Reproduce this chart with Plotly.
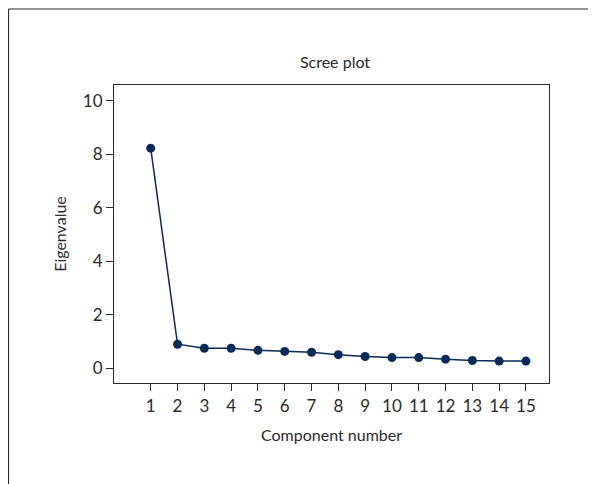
import plotly.graph_objects as go

components = list(range(1, 16))
eigenvalues = [8.23, 0.90, 0.75, 0.75, 0.67, 0.63, 0.60, 0.51, 0.44, 0.40, 0.40, 0.34, 0.29, 0.27, 0.27]
x_ticks = list(range(1, 16))
y_ticks = [0, 2, 4, 6, 8, 10]

FONT = "Lato, Roboto, sans-serif"
DARK = "#2a2a2a"
NAVY = "#0b2a57"

# page is offset by 8px (body margin), so figure is sized/positioned accordingly
W, H = 588, 476
L, T, R, B = 106, 77, 588 - 541, 476 - 375
PW, PH = W - L - R, H - T - B

fig = go.Figure(go.Scatter(
    x=components, y=eigenvalues, mode="lines+markers",
    line=dict(color=NAVY, width=1.5),
    marker=dict(color=NAVY, size=9),
))

axis_common = dict(showline=True, linecolor=DARK, linewidth=1.2, mirror=True,
                   ticks="outside", ticklen=7, tickcolor=DARK, tickwidth=1.2,
                   showgrid=False, zeroline=False,
                   tickfont=dict(family=FONT, size=17, color=DARK))

fig.update_layout(
    width=W, height=H,
    margin=dict(l=L, r=R, t=T, b=B),
    paper_bgcolor="white", plot_bgcolor="white",
    showlegend=False,
    title=dict(text="Scree plot", x=(327 - 0) / W, xanchor="center", y=1 - 54 / H, yanchor="middle",
               font=dict(family=FONT, size=16, color=DARK)),
    xaxis=dict(range=[-0.37, 15.86], tickvals=x_ticks, ticktext=[str(v) for v in x_ticks],
               title=dict(text="Component number", standoff=15,
                          font=dict(family=FONT, size=16, color=DARK)),
               **axis_common),
    yaxis=dict(range=[-0.55, 10.59], tickvals=y_ticks, ticktext=[str(v) for v in y_ticks],
               title=dict(text="Eigenvalue", standoff=12,
                          font=dict(family=FONT, size=16, color=DARK)),
               **axis_common),
)

# outer frame (left and top edges)
px0, py0 = (0.5 - L) / PW, (H - B - 1) / PH
fig.add_shape(type="line", xref="paper", yref="paper", x0=px0, x1=px0, y0=py0, y1=-(B + 10) / PH,
              line=dict(color=DARK, width=1.2))
fig.add_shape(type="line", xref="paper", yref="paper", x0=px0, x1=(W + 10 - L) / PW, y0=py0, y1=py0,
              line=dict(color=DARK, width=1.2))

fig.write_html("out.html")
